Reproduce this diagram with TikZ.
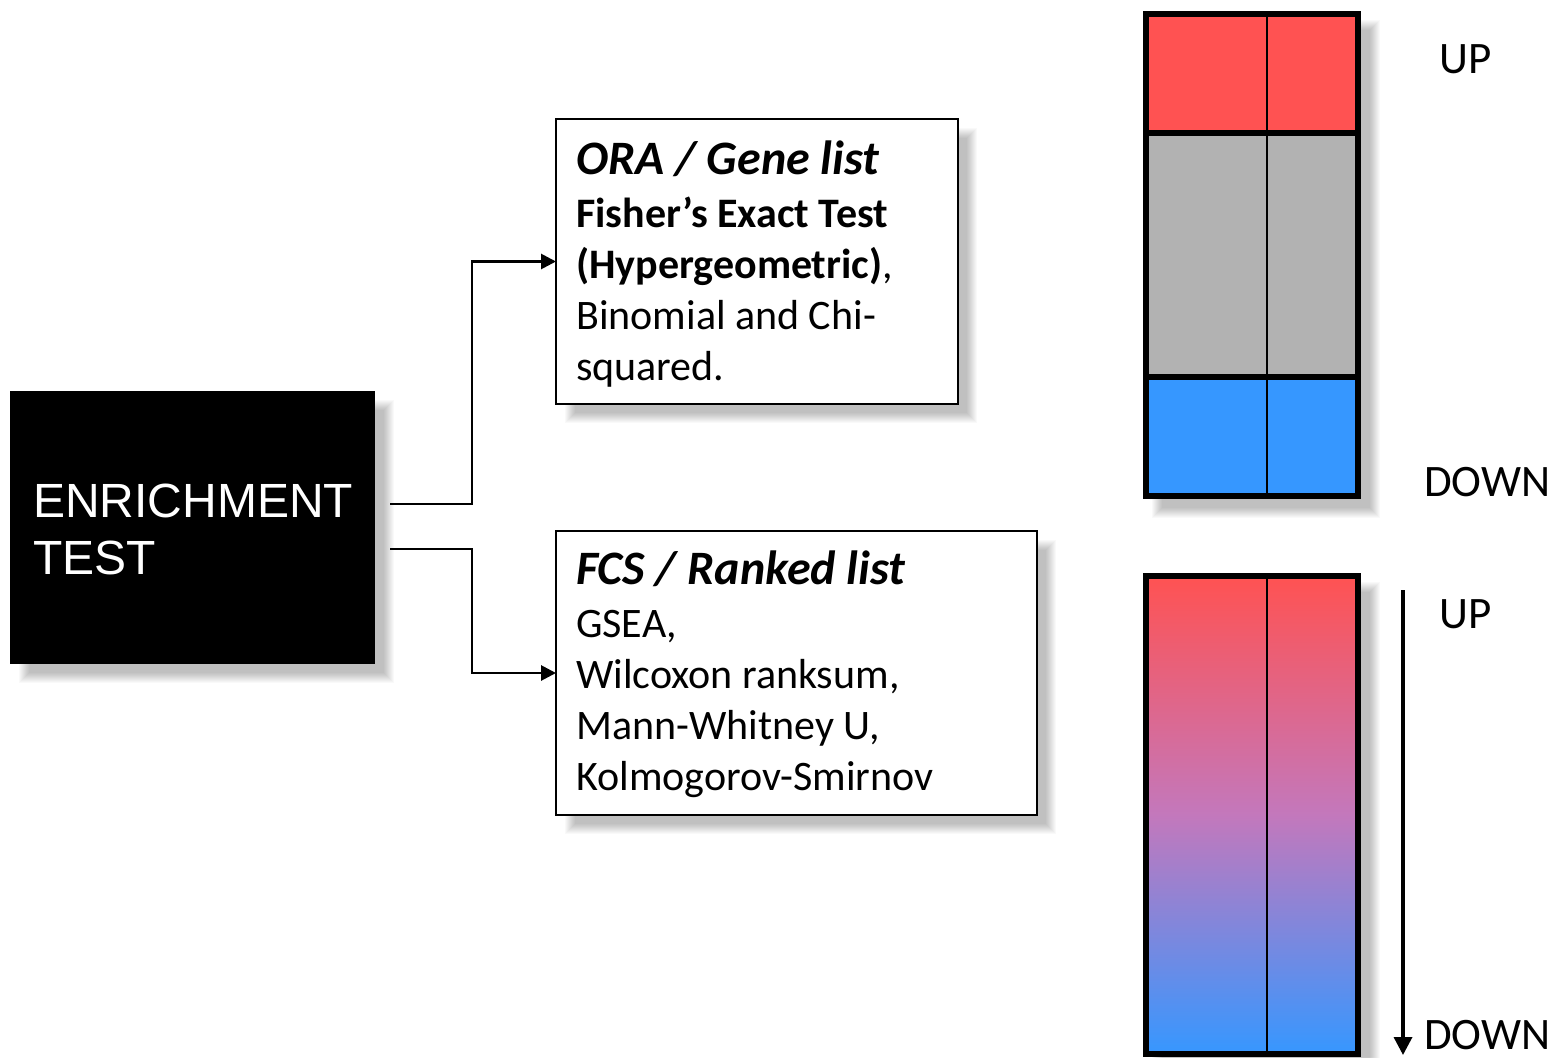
\documentclass[tikz,border=0pt]{standalone}
\usepackage{fontspec}
\setmainfont{Carlito}
\newfontfamily\arialfont{Liberation Sans}
\usetikzlibrary{arrows.meta,calc,backgrounds}
\definecolor{barred}{RGB}{255,82,82}
\definecolor{bargray}{RGB}{178,178,178}
\definecolor{barblue}{RGB}{54,151,255}
\definecolor{gradmid}{RGB}{195,120,188}
\newcommand\softshadow[2]{%
  \foreach \k in {0,...,10}{%
    \fill[black,opacity=0.025] ([shift={(19-\k,19-\k)}]#1) rectangle ([shift={(9+\k,9+\k)}]#2);}}
\tikzset{
  txtbox/.style={draw=black, line width=1.5pt, fill=white, rectangle, anchor=north west, inner sep=0pt, outer sep=0pt},
  blackbox/.style={fill=black, rectangle, anchor=north west, inner sep=0pt, outer sep=0pt},
  boxtext/.style={anchor=north west, align=left, inner sep=0pt, font=\fontsize{42}{51}\selectfont},
  conn/.style={line width=2.8pt, -{Triangle[length=15pt,width=15pt]}},
  lab/.style={anchor=base west, inner sep=0pt, font=\fontsize{45}{54}\selectfont},
  barborder/.style={line width=6pt},
}
\begin{document}
\begin{tikzpicture}[x=1pt,y=-1pt]
\useasboundingbox (0,0) rectangle (1557,1057);

% boxes
\node[blackbox, minimum width=365pt, minimum height=273pt] (enrich) at (10,391) {};
\node[anchor=north west, align=left, inner sep=0pt, text=white,
      font=\arialfont\fontsize{48}{57}\selectfont] (enrichtext) at (33,477)
      {\rule{0pt}{40pt}ENRICHMENT\\TEST};

\node[txtbox, minimum width=402pt, minimum height=285pt] (ora) at (556,119) {};
\node[boxtext] (oratext) at (576,124)
  {\rule{0pt}{50pt}{\fontsize{48}{51}\selectfont\bfseries\itshape ORA / Gene list}\\[2pt]
   \textbf{Fisher’s Exact Test}\\
   \textbf{(Hypergeometric)},\\
   Binomial and Chi-\\
   squared.};

\node[txtbox, minimum width=481pt, minimum height=284pt] (fcs) at (556,531) {};
\node[boxtext] (fcstext) at (576,534)
  {\rule{0pt}{50pt}{\fontsize{48}{51}\selectfont\bfseries\itshape FCS / Ranked list}\\[2pt]
   GSEA,\\
   Wilcoxon ranksum,\\
   Mann-Whitney U,\\
   Kolmogorov-Smirnov};

% connectors
\coordinate (s1) at ([shift={(15,-23.5)}]enrich.east);
\coordinate (s2) at ([shift={(15,21.5)}]enrich.east);
\draw[conn] (s1) -- ++(82,0) |- (ora.west);
\draw[conn] (s2) -- ++(82,0) |- (fcs.west);

% upper bar
\coordinate (b1nw) at (1143,11);
\coordinate (b1se) at (1361,499);
\fill[barred] (1146,14) rectangle (1358,133);
\fill[bargray] (1146,133) rectangle (1358,377);
\fill[barblue] (1146,377) rectangle (1358,496);
\draw[line width=2pt] (1267,14) -- (1267,496);
\draw[barborder] (1146,133) -- (1358,133) (1146,377) -- (1358,377);
\draw[barborder] (1146,14) rectangle (1358,496);

% lower bar
\coordinate (b2nw) at (1143,573);
\coordinate (b2se) at (1361,1057);
\shade[top color=barred, bottom color=barblue, middle color=gradmid] (1146,576) rectangle (1358,1054);
\draw[line width=2pt] (1267,576) -- (1267,1054);
\draw[barborder] (1146,576) rectangle (1358,1054);

% rank arrow
\coordinate (rankstart) at (1403,590);
\coordinate (rankend) at (1403,1055);
\draw[line width=3.5pt, -{Triangle[length=18pt,width=18pt]}] (rankstart) -- (rankend);

% labels
\node[lab] (up1) at (1439,74) {UP};
\node[lab] (down1) at (1424,496) {DOWN};
\node[lab] (up2) at (1439,628) {UP};
\node[lab] (down2) at (1424,1049) {DOWN};

\begin{pgfonlayer}{background}
  \fill[white] (0,0) rectangle (1557,1057);
  \softshadow{enrich.north west}{enrich.south east}
  \softshadow{ora.north west}{ora.south east}
  \softshadow{fcs.north west}{fcs.south east}
  \softshadow{b1nw}{b1se}
  \softshadow{b2nw}{b2se}
\end{pgfonlayer}
\end{tikzpicture}
\end{document}
